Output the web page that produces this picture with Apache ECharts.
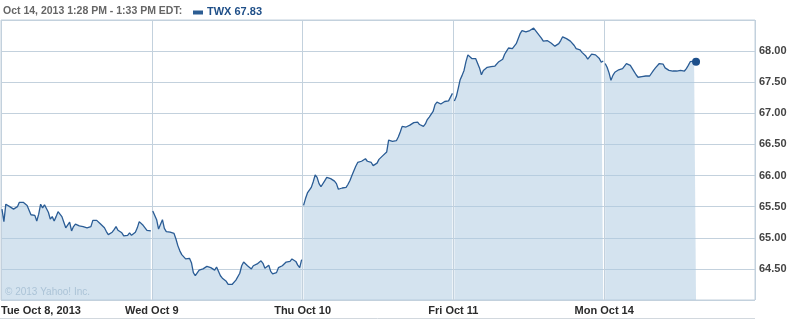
<!DOCTYPE html>
<html><head><meta charset="utf-8">
<script src="https://cdn.jsdelivr.net/npm/echarts@6.0.0/dist/echarts.min.js"></script>
<style>html,body{margin:0;padding:0;background:#fff}#c{width:796px;height:319px}</style>
</head><body><div id="c"></div>
<script>
// ---- data (5-minute bars, TWX, Oct 8 - Oct 14, 2013) ----
const dayLabels = ['Tue Oct 8, 2013', 'Wed Oct 9', 'Thu Oct 10', 'Fri Oct 11', 'Mon Oct 14'];
const headerText = 'Oct 14, 2013 1:28 PM - 1:33 PM EDT:';
const ticker = 'TWX';
const yMin = 64.0, yMax = 68.5, yStep = 0.5;

const tue = [65.46,65.26,65.54,65.52,65.50,65.47,65.46,65.47,65.50,65.57,65.56,65.57,65.56,65.52,65.50,65.37,
  65.39,65.36,65.27,65.38,65.54,65.48,65.53,65.53,65.41,65.30,65.34,65.27,65.34,65.42,65.43,65.34,65.25,65.16,
  65.18,65.25,65.11,65.18,65.22,65.24,65.19,65.19,65.18,65.15,65.16,65.14,65.18,65.28,65.29,65.28,65.30,65.22,
  65.23,65.16,65.10,65.05,65.05,65.09,65.13,65.18,65.12,65.10,65.08,65.03,65.02,65.04,65.08,65.04,65.02,65.09,
  65.16,65.26,65.25,65.20,65.18,65.12,65.10,65.11];
const wed = [65.43,65.42,65.29,65.14,65.11,65.29,65.15,65.10,65.09,65.09,65.09,65.07,64.98,64.87,64.79,64.73,
  64.70,64.66,64.64,64.67,64.60,64.44,64.39,64.41,64.48,64.48,64.50,64.50,64.54,64.51,64.52,64.53,64.48,64.53,
  64.50,64.39,64.35,64.36,64.30,64.25,64.23,64.25,64.28,64.32,64.32,64.43,64.55,64.61,64.58,64.55,64.53,64.50,
  64.55,64.56,64.58,64.60,64.63,64.59,64.51,64.54,64.56,64.46,64.42,64.43,64.44,64.52,64.53,64.55,64.58,64.61,
  64.62,64.62,64.66,64.68,64.62,64.56,64.52,64.65];
const thu = [65.52,65.63,65.72,65.74,65.81,65.90,66.01,65.97,65.87,65.82,65.82,65.92,65.97,65.96,65.95,65.92,
  65.91,65.87,65.78,65.80,65.80,65.79,65.81,65.86,65.92,66.00,66.03,66.15,66.21,66.22,66.23,66.24,66.27,66.23,
  66.24,66.21,66.16,66.17,66.20,66.26,66.29,66.32,66.30,66.38,66.57,66.58,66.55,66.53,66.56,66.62,66.70,66.79,
  66.81,66.78,66.78,66.81,66.83,66.85,66.85,66.86,66.82,66.79,66.79,66.83,66.90,66.94,66.97,67.03,67.14,67.18,
  67.15,67.15,67.18,67.19,67.20,67.20,67.22,67.32];
const fri = [67.20,67.27,67.40,67.54,67.61,67.69,67.83,67.94,67.94,67.88,67.85,67.88,67.87,67.73,67.62,67.69,
  67.72,67.74,67.76,67.75,67.74,67.76,67.79,67.83,67.83,67.87,67.95,68.00,68.05,68.04,68.04,68.05,68.12,68.20,
  68.28,68.33,68.31,68.31,68.30,68.33,68.35,68.37,68.35,68.29,68.31,68.21,68.16,68.16,68.17,68.18,68.13,68.11,
  68.08,68.05,68.12,68.17,68.23,68.24,68.20,68.18,68.16,68.13,68.09,68.04,68.03,68.02,67.98,67.96,67.92,67.87,
  67.88,67.95,67.98,67.94,67.93,67.88,67.82,67.84];
const mon = [67.80,67.74,67.65,67.53,67.61,67.66,67.68,67.70,67.70,67.72,67.74,67.80,67.80,67.77,67.74,67.67,
  67.62,67.58,67.57,67.59,67.58,67.60,67.60,67.60,67.61,67.69,67.73,67.74,67.80,67.82,67.79,67.73,67.72,67.69,
  67.68,67.68,67.67,67.68,67.70,67.69,67.69,67.68,67.72,67.77,67.83,67.86,67.84,67.83];

// ---- build series from the arrays ----
const DAY_MIN = 390, BAR_MIN = 5, BAR_MID = 2.5;
const days = [tue, wed, thu, fri, mon];
const lineData = [];
days.forEach((arr, d) => {
  if (d > 0) lineData.push([d * DAY_MIN, '-']);
  arr.forEach((v, i) => lineData.push([d * DAY_MIN + BAR_MID + BAR_MIN * i, v]));
});
const lastPt = lineData[lineData.length - 1];

const GRID = '#c3d1dd';
const FONT = '"Liberation Sans", Arial, sans-serif';

const chart = echarts.init(document.getElementById('c'), null, {renderer: 'canvas'});
chart.setOption({
  animation: false,
  backgroundColor: '#fff',
  grid: {left: 1, right: 41, top: 20, bottom: 19, show: true, borderColor: GRID, borderWidth: 1,
         outerBoundsMode: 'none', containLabel: false},
  xAxis: {
    type: 'value', min: 0, max: DAY_MIN * dayLabels.length, interval: DAY_MIN,
    axisLine: {show: false}, axisTick: {show: false},
    splitLine: {show: true, lineStyle: {color: GRID, width: 1}},
    axisLabel: {
      show: true, margin: 5, color: '#2b2b2b', fontFamily: FONT, fontSize: 11, fontWeight: 'bold',
      alignMinLabel: 'left', showMaxLabel: false,
      formatter: v => dayLabels[Math.round(v / DAY_MIN)] || ''
    }
  },
  yAxis: {
    type: 'value', position: 'right', min: yMin, max: yMax, interval: yStep,
    axisLine: {show: false}, axisTick: {show: false},
    splitLine: {show: true, lineStyle: {color: GRID, width: 1}},
    axisLabel: {
      margin: 4, color: '#444', fontFamily: FONT, fontSize: 11, fontWeight: 'bold',
      showMinLabel: false, showMaxLabel: false,
      formatter: v => v.toFixed(2)
    }
  },
  series: [{
    type: 'line', data: lineData, showSymbol: false, connectNulls: false,
    lineStyle: {color: '#2a5c95', width: 1.3},
    areaStyle: {color: '#adcae1', opacity: 0.52, origin: 'start'},
    z: 2
  }, {
    type: 'scatter', data: [lastPt], symbol: 'circle', symbolSize: 8,
    itemStyle: {color: '#1d4f8b', opacity: 1}, z: 3
  }],
  graphic: [
    {type: 'text', left: 3, top: 6, style: {text: headerText, fill: '#666', font: 'bold 10.5px ' + FONT}},
    {type: 'rect', shape: {x: 193, y: 10.5, width: 10, height: 4}, style: {fill: '#2c5d93'}},
    {type: 'text', left: 207, top: 6, style: {text: ticker + ' ' + lastPt[1].toFixed(2), fill: '#1f4f88', font: 'bold 11px ' + FONT}},
    {type: 'text', left: 5, top: 287, style: {text: '\u00a9 2013 Yahoo! Inc.', fill: '#a9bccc', font: '10px ' + FONT}},
    {type: 'line', shape: {x1: 0, y1: 318.5, x2: 755, y2: 318.5}, style: {stroke: '#d2d8de', lineWidth: 1}}
  ]
});
</script></body></html>
